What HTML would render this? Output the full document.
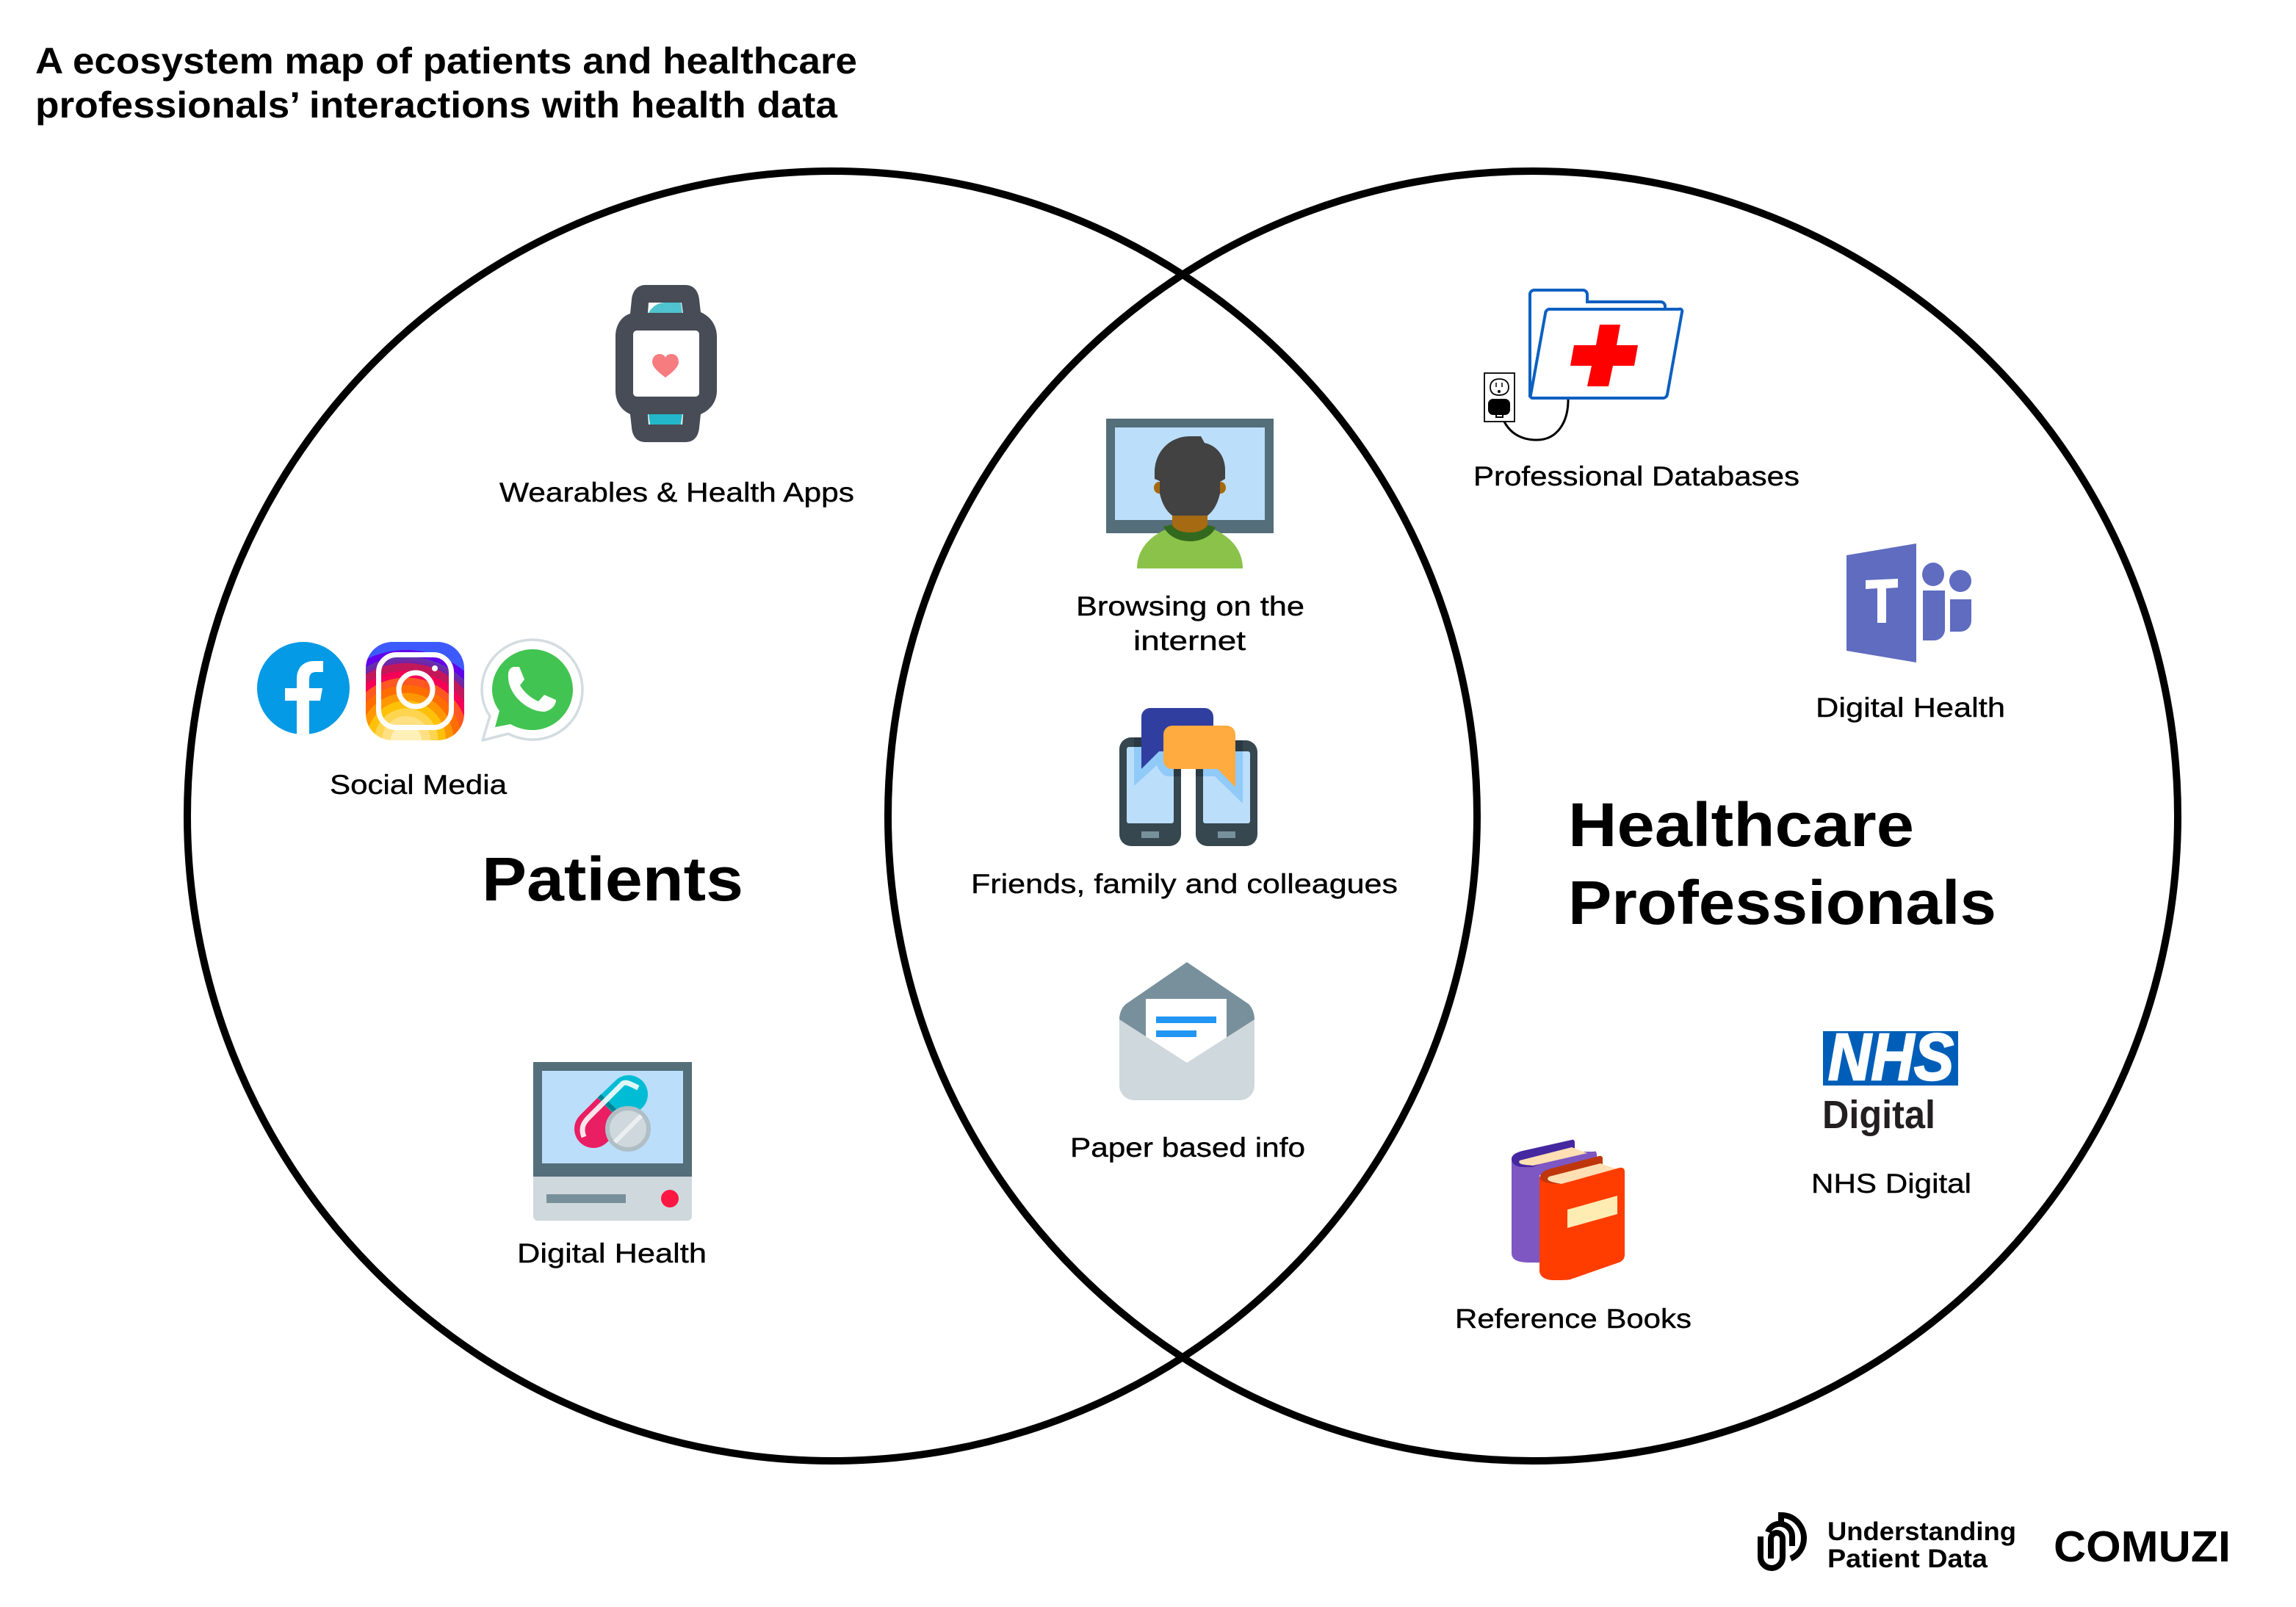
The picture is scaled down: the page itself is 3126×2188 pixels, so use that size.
<!DOCTYPE html>
<html><head><meta charset="utf-8"><style>html,body{margin:0;padding:0;background:#fff}svg{display:block}text{font-family:"Liberation Sans",sans-serif;fill:#000}.l{font-size:37px;stroke:#000;stroke-width:.4px}.h{font-weight:bold}</style></head><body>
<svg width="3126" height="2188" viewBox="0 0 3126 2188" xmlns="http://www.w3.org/2000/svg">
<defs>
<radialGradient id="ig" gradientUnits="userSpaceOnUse" cx="553" cy="1008" r="150">
<stop offset="0" stop-color="#fff0b8"/><stop offset=".14" stop-color="#fff0b8"/><stop offset=".14" stop-color="#ffe082"/><stop offset=".22" stop-color="#ffe082"/><stop offset=".22" stop-color="#ffd54f"/><stop offset=".29" stop-color="#ffd54f"/><stop offset=".29" stop-color="#ffc107"/><stop offset=".36" stop-color="#ffc107"/><stop offset=".36" stop-color="#ff9800"/><stop offset=".43" stop-color="#ff9800"/><stop offset=".43" stop-color="#ff6d00"/><stop offset=".5" stop-color="#ff6d00"/><stop offset=".5" stop-color="#ff5722"/><stop offset=".57" stop-color="#ff5722"/><stop offset=".57" stop-color="#f50057"/><stop offset=".63" stop-color="#f50057"/><stop offset=".63" stop-color="#c2185b"/><stop offset=".7" stop-color="#c2185b"/><stop offset=".7" stop-color="#7b1fa2"/><stop offset=".76" stop-color="#5e35b1"/><stop offset=".76" stop-color="#6200ea"/><stop offset=".82" stop-color="#6200ea"/><stop offset=".82" stop-color="#3d5afe"/><stop offset="1" stop-color="#3d5afe"/>
</radialGradient>
<clipPath id="fbc"><circle cx="413" cy="937" r="63"/></clipPath>
</defs>

<circle cx="1133" cy="1111" r="878" fill="none" stroke="#000" stroke-width="10"/>
<circle cx="2087" cy="1111" r="878" fill="none" stroke="#000" stroke-width="10"/>

<text x="48" y="100" font-size="50" class="h" textLength="1119" lengthAdjust="spacingAndGlyphs">A ecosystem map of patients and healthcare</text>
<text x="48" y="160" font-size="50" class="h" textLength="1092" lengthAdjust="spacingAndGlyphs">professionals’ interactions with health data</text>

<text x="656" y="1226" font-size="84" class="h" textLength="356" lengthAdjust="spacingAndGlyphs">Patients</text>
<text x="2135" y="1152" font-size="84" class="h" textLength="471" lengthAdjust="spacingAndGlyphs">Healthcare</text>
<text x="2135" y="1258" font-size="84" class="h" textLength="583" lengthAdjust="spacingAndGlyphs">Professionals</text>

<text class="l" x="680" y="683" textLength="483" lengthAdjust="spacingAndGlyphs">Wearables &amp; Health Apps</text>
<text class="l" x="449" y="1081" textLength="241" lengthAdjust="spacingAndGlyphs">Social Media</text>
<text class="l" x="704" y="1719" textLength="258" lengthAdjust="spacingAndGlyphs">Digital Health</text>
<text class="l" x="1465" y="838" textLength="311" lengthAdjust="spacingAndGlyphs">Browsing on the</text>
<text class="l" x="1543" y="885" textLength="153" lengthAdjust="spacingAndGlyphs">internet</text>
<text class="l" x="1322" y="1216" textLength="581" lengthAdjust="spacingAndGlyphs">Friends, family and colleagues</text>
<text class="l" x="1457" y="1575" textLength="320" lengthAdjust="spacingAndGlyphs">Paper based info</text>
<text class="l" x="2006" y="661" textLength="444" lengthAdjust="spacingAndGlyphs">Professional Databases</text>
<text class="l" x="2472" y="976" textLength="258" lengthAdjust="spacingAndGlyphs">Digital Health</text>
<text class="l" x="2466" y="1624" textLength="218" lengthAdjust="spacingAndGlyphs">NHS Digital</text>
<text class="l" x="1981" y="1808" textLength="322" lengthAdjust="spacingAndGlyphs">Reference Books</text>

<!-- watch -->
<path d="M883 412h46v16h-46zM883 562h46v18h-46z" fill="#fff"/>
<path d="M883 426 C888 417 896 412 906 412 H927 L929 426Z" fill="#4fc3cf"/>
<path d="M883 564H929L927 578H885Z" fill="#22b8c9"/>
<path fill-rule="evenodd" fill="#474c57" d="M879 388H933C945 388 951 397 952 408L954 425C968 431 976 444 976 458V532C976 546 968 558 954 564L952 582C951 594 945 602 933 602H879C867 602 861 594 860 582L858 564C845 558 838 546 838 532V458C838 444 845 431 858 427L860 408C861 397 867 388 879 388ZM883 412L882 426H930L928 412ZM882 564L883 578H929L930 564Z"/>
<rect x="862" y="450" width="90" height="90" rx="5" fill="#fff"/>
<path d="M906 514C898 508 888 500 888 493C888 486 893 482 898 482C902 482 905 484 906 487C907 484 910 482 914 482C920 482 924 486 924 493C924 500 914 508 906 514Z" fill="#f67c80"/>

<!-- facebook -->
<circle cx="413" cy="937" r="63" fill="#049ae6"/>
<path clip-path="url(#fbc)" fill="#fff" d="M404 1005V954H388V937H404V925C404 909 413 900 428 900H440V915H431C423 915 421 919 421 926V937H439L436 954H421V1005Z"/>

<!-- instagram -->
<rect x="498" y="874" width="134" height="134" rx="36" fill="url(#ig)"/>
<rect x="515.500" y="891.500" width="99" height="99" rx="24" fill="none" stroke="#fff" stroke-width="7"/>
<circle cx="566" cy="939" r="23" fill="none" stroke="#fff" stroke-width="7"/>
<circle cx="592" cy="910" r="4" fill="#fff"/>

<!-- whatsapp -->
<path d="M725 871C763 871 793 901 793 939C793 977 763 1007 725 1007C713 1007 702 1004 692 999L657 1008L667 975C660 965 656 952 656 939C656 901 687 871 725 871Z" fill="#fff" stroke="#d3dce0" stroke-width="3.500" stroke-linejoin="round"/>
<path d="M725 884C755 884 780 909 780 939C780 969 755 994 725 994C714 994 704 991 695 986L674 990L680 968C674 960 670 950 670 939C670 909 695 884 725 884Z" fill="#42c452"/>
<path d="M699 908H707L714 925L708 933C713 942 722 950 733 955L741 946L757 953C757 962 748 968 741 969C718 969 690 945 692 918C692 913 695 909 699 908Z" fill="#fff"/>

<!-- pc pills -->
<rect x="726" y="1446" width="216" height="156" fill="#546e7a"/>
<rect x="738" y="1458" width="192" height="126" fill="#bbdefb"/>
<path d="M726 1602H942V1656a6 6 0 0 1-6 6H732a6 6 0 0 1-6-6Z" fill="#cfd8dc"/>
<rect x="744" y="1626" width="108" height="12" fill="#78909c"/>
<circle cx="912" cy="1632" r="12" fill="#ff1744"/>
<line x1="808" y1="1537" x2="832" y2="1513" stroke="#e91e63" stroke-width="52" stroke-linecap="round"/>
<line x1="832" y1="1513" x2="856" y2="1490" stroke="#00bcd4" stroke-width="52" stroke-linecap="round"/>
<line x1="808" y1="1537" x2="832" y2="1513" stroke="#e91e63" stroke-width="52"/>
<line x1="816" y1="1492" x2="845" y2="1520" stroke="#00838f" stroke-width="6"/>
<path d="M795 1548C790 1535 795 1528 802 1521L822 1501" stroke="#fce4ec" stroke-width="7" fill="none"/>
<path d="M822 1501L848 1475C853 1472 860 1477 869 1481" stroke="#e0f7fa" stroke-width="7" fill="none"/>
<circle cx="855" cy="1537" r="28" fill="#cfd8dc" stroke="#b0bec5" stroke-width="6"/>
<line x1="837" y1="1555" x2="873" y2="1519" stroke="#eceff1" stroke-width="6"/>

<!-- browsing -->
<rect x="1506" y="570" width="228" height="156" fill="#546e7a"/>
<rect x="1518" y="582" width="204" height="126" fill="#bbdefb"/>
<ellipse cx="1578" cy="664" rx="7" ry="8" fill="#a66a0e"/><ellipse cx="1662" cy="664" rx="7" ry="8" fill="#a66a0e"/>
<path d="M1548 774C1548 745 1570 725 1600 716H1640C1670 725 1692 745 1692 774Z" fill="#8bc34a"/>
<path d="M1584 717L1600 713H1640L1655 718C1650 730 1635 737 1620 737C1605 737 1590 730 1584 717Z" fill="#33691e"/>
<path d="M1596 698H1644V715C1640 722 1630 725 1620 725C1610 725 1600 722 1596 715Z" fill="#a66a12"/>
<path d="M1596 702C1587 695 1582 685 1579 672V655L1572 652V640C1574 612 1595 594 1620 594H1635L1640 603C1658 607 1668 622 1668 640V652L1661 656V672C1658 685 1653 695 1644 702Z" fill="#424242"/>

<!-- phones -->
<rect x="1524" y="1004" width="84" height="148" rx="16" fill="#37474f"/>
<rect x="1628" y="1008" width="84" height="144" rx="16" fill="#37474f"/>
<rect x="1534" y="1017" width="64" height="104" rx="3" fill="#bbdefb"/>
<rect x="1638" y="1023" width="64" height="98" rx="3" fill="#bbdefb"/>
<rect x="1554" y="1132" width="24" height="9" fill="#78909c"/>
<rect x="1658" y="1132" width="24" height="9" fill="#78909c"/>
<path d="M1544 1017H1598V1057H1590C1585 1057 1578 1050 1575 1042L1544 1070Z" fill="#90caf9"/>
<path d="M1544 1004H1554V1017H1544ZM1598 1046H1608V1057H1598ZM1628 1048H1638V1057H1628ZM1682 1008H1692V1023H1682Z" fill="#2a3942"/>
<path d="M1638 1057H1654L1692 1094V1023H1682L1660 1047H1638Z" fill="#90caf9"/>
<path d="M1566 964H1640A12 12 0 0 1 1652 976V1023H1578L1554 1047V976A12 12 0 0 1 1566 964Z" fill="#303f9f"/>
<path d="M1596 988H1670A12 12 0 0 1 1682 1000V1072L1658 1047H1596A12 12 0 0 1 1584 1035V1000A12 12 0 0 1 1596 988Z" fill="#ffab40"/>

<!-- envelope -->
<path d="M1616 1310L1700 1367C1705 1372 1708 1380 1708 1388V1470H1524V1388C1524 1380 1527 1372 1533 1367Z" fill="#78909c"/>
<path d="M1560 1360H1670V1420L1616 1455L1560 1420Z" fill="#fff"/>
<rect x="1574" y="1384" width="82" height="9" fill="#2196f3"/>
<rect x="1574" y="1403" width="55" height="9" fill="#2196f3"/>
<path d="M1524 1388L1616 1447L1708 1388V1478A20 20 0 0 1 1688 1498H1544A20 20 0 0 1 1524 1478Z" fill="#cfd8dc"/>

<!-- database folder -->
<path d="M2043 560C2050 590 2072 599 2092 599C2120 599 2136 575 2135 541" fill="none" stroke="#000" stroke-width="3"/>
<rect x="2021" y="508" width="41" height="66" fill="#fff" stroke="#000" stroke-width="1.800"/>
<path d="M2041 516C2035 516 2029 519 2029 527C2029 535 2034 538 2041 538C2048 538 2054 535 2054 527C2054 519 2048 516 2041 516Z" fill="#fff" stroke="#000" stroke-width="1.800"/>
<path d="M2037 521v6M2045 521v6" stroke="#000" stroke-width="1.500"/><circle cx="2041" cy="533" r="2" fill="#000"/>
<rect x="2026" y="543" width="30" height="22" rx="7" fill="#000"/>
<path d="M2037 565v3h9v-3" fill="none" stroke="#000" stroke-width="2"/>
<path d="M2083 541V400A6 6 0 0 1 2089 395H2155A6 6 0 0 1 2161 401V411H2261A6 6 0 0 1 2267 417V425" fill="#fff" stroke="#0b60c1" stroke-width="4"/>
<path d="M2111 421H2286A3 3 0 0 1 2290 425L2270 537A6 6 0 0 1 2264 542H2086A3 3 0 0 1 2084 538L2104 427A6 6 0 0 1 2111 421Z" fill="#fff" stroke="#0b60c1" stroke-width="4"/>
<path d="M2178 442H2206L2201 470H2230L2225 498H2196L2190 526H2161L2167 498H2138L2143 470H2173Z" fill="#f00"/>

<!-- teams -->
<path d="M2514 756L2609 740V902L2514 886Z" fill="#5f6cc0"/>
<path d="M2540 790L2584 788V800L2568 801V848H2556V801L2540 802Z" fill="#fff"/>
<ellipse cx="2632" cy="782" rx="15" ry="16" fill="#5f6cc0"/>
<circle cx="2669" cy="791" r="15" fill="#5f6cc0"/>
<path d="M2618 804H2648V857A15 15 0 0 1 2633 872H2618Z" fill="#5f6cc0"/>
<path d="M2655 816H2684V845A15 15 0 0 1 2669 860H2655Z" fill="#5f6cc0"/>

<!-- nhs -->
<rect x="2490" y="1404" width="184" height="74" fill="#005eb8" transform="translate(-8)"/>
<text x="2489" y="1470" font-size="90" font-style="italic" font-weight="bold" stroke="#fff" stroke-width="2.500" style="fill:#fff" textLength="171" lengthAdjust="spacingAndGlyphs">NHS</text>
<text x="2481" y="1536" font-size="54" font-weight="bold" style="fill:#231f20" textLength="154" lengthAdjust="spacingAndGlyphs">Digital</text>

<!-- books -->
<path d="M2058 1577C2059 1572 2065 1569 2073 1567L2140 1552C2143 1551 2144 1554 2144 1556V1568L2170 1568C2173 1566 2174 1570 2174 1572V1600H2096V1719H2083C2068 1719 2058 1716 2058 1706Z" fill="#7e57c2"/>
<path d="M2058 1577C2059 1572 2065 1569 2073 1567L2140 1552C2143 1551 2144 1554 2144 1556V1563L2087 1589H2075C2065 1589 2058 1586 2058 1577Z" fill="#4527a0"/>
<path d="M2069 1580L2140 1562L2161 1570L2087 1587C2078 1586 2065 1586 2069 1580Z" fill="#ffdfb3"/>
<path d="M2096 1604C2097 1598 2102 1594 2108 1592L2177 1574C2180 1573 2182 1575 2182 1577V1586L2126 1614H2110C2102 1614 2096 1612 2096 1604Z" fill="#bf360c"/>
<path d="M2109 1602L2179 1584L2202 1592L2126 1612C2116 1610 2102 1608 2109 1602Z" fill="#ffdfb3"/>
<path d="M2096 1604C2099 1610 2110 1612 2126 1612L2205 1590C2209 1589 2212 1591 2212 1595V1708C2212 1714 2209 1717 2204 1719L2138 1742C2133 1743 2125 1743 2115 1743C2104 1743 2096 1738 2096 1730Z" fill="#ff3d00"/>
<path d="M2134 1647L2202 1628V1653L2134 1672Z" fill="#ffecb3"/>

<!-- footer logo -->
<g fill="none" stroke="#000" stroke-width="8">
<path d="M2411 2122V2095A8 8 0 0 1 2427 2095V2120A15 15 0 0 1 2397 2120V2092"/>
<path d="M2407 2086A17 17 0 0 1 2440 2092V2105"/>
<path d="M2425 2076V2063C2445 2063 2456 2080 2456 2094C2456 2108 2448 2118 2438 2122"/>
</g>
<text x="2488" y="2097" font-size="35" class="h" textLength="257" lengthAdjust="spacingAndGlyphs">Understanding</text>
<text x="2488" y="2134" font-size="35" class="h" textLength="218" lengthAdjust="spacingAndGlyphs">Patient Data</text>
<text x="2796" y="2126" font-size="59" class="h" textLength="241" lengthAdjust="spacingAndGlyphs">COMUZI</text>
</svg>
</body></html>
